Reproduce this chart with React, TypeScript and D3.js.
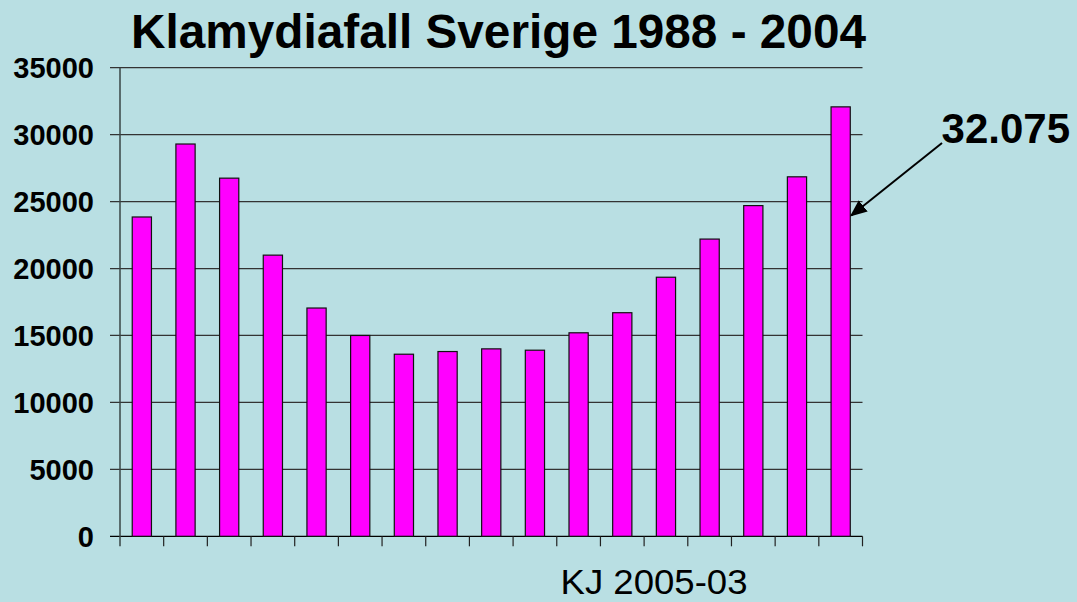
import React from "react";
import * as d3 from "d3";

const years = [
  1988, 1989, 1990, 1991, 1992, 1993, 1994, 1995, 1996, 1997, 1998, 1999,
  2000, 2001, 2002, 2003, 2004,
];
const cases = [
  23850, 29300, 26750, 21000, 17050, 15000, 13600, 13800, 14000, 13900, 15200,
  16700, 19350, 22200, 24700, 26850, 32075,
];
const yTicks = [0, 5000, 10000, 15000, 20000, 25000, 30000, 35000];
const title = "Klamydiafall Sverige 1988 - 2004";
const callout = "32.075";
const footnote = "KJ 2005-03";

export default function App() {
  const width = 1077;
  const height = 602;
  const plot = { left: 120, right: 862.5, top: 67.7, bottom: 536.3 };

  const x = d3
    .scaleBand<number>()
    .domain(years)
    .range([plot.left, plot.right])
    .padding(0);
  const y = d3.scaleLinear().domain([0, 35000]).range([plot.bottom, plot.top]);

  const barW = x.bandwidth() * 0.44;
  const font = "Arial, 'Liberation Sans', sans-serif";

  // arrow pointing at the last bar
  const last = years[years.length - 1];
  const tipX = (x(last) ?? 0) + x.bandwidth() / 2 + barW / 2 + 1;
  const tipY = y(24000) + 0.5;
  const fromX = 942;
  const fromY = 143;

  return (
    <svg
      width={width}
      height={height}
      style={{ position: "fixed", left: 0, top: 0, background: "#B9DFE3" }}
    >
      <defs>
        <marker
          id="head"
          viewBox="0 0 10 10"
          refX="9"
          refY="5"
          markerWidth="17"
          markerHeight="17"
          markerUnits="userSpaceOnUse"
          orient="auto"
        >
          <path d="M0,0.8 L10,5 L0,9.2 Z" fill="#000" />
        </marker>
      </defs>
      <rect width={width} height={height} fill="#B9DFE3" />

      {/* gridlines */}
      <g stroke="#222" strokeWidth={1.2}>
        {yTicks.map((t) => (
          <line
            key={t}
            x1={plot.left - 10}
            x2={plot.right}
            y1={y(t)}
            y2={y(t)}
            stroke={t === 0 ? "#000" : "#333"}
          />
        ))}
      </g>

      {/* y axis */}
      <line
        x1={plot.left}
        x2={plot.left}
        y1={plot.top}
        y2={plot.bottom + 10}
        stroke="#3a4646"
        strokeWidth={1.5}
      />

      {/* x ticks at category boundaries */}
      <g stroke="#222" strokeWidth={1.2}>
        {years.map((yr) => (
          <line
            key={yr}
            x1={(x(yr) ?? 0) + x.bandwidth()}
            x2={(x(yr) ?? 0) + x.bandwidth()}
            y1={plot.bottom}
            y2={plot.bottom + 10}
          />
        ))}
      </g>

      {/* bars */}
      <g>
        {years.map((yr, i) => (
          <rect
            key={yr}
            x={(x(yr) ?? 0) + (x.bandwidth() - barW) / 2}
            y={y(cases[i])}
            width={barW}
            height={plot.bottom - y(cases[i])}
            fill="#FF00FF"
            stroke="#111"
            strokeWidth={1.2}
          />
        ))}
      </g>

      {/* y labels */}
      <g fontFamily={font} fontWeight="bold" fontSize={29} fill="#000">
        {yTicks.map((t) => (
          <text key={t} x={94} y={y(t) + 10.5} textAnchor="end">
            {t}
          </text>
        ))}
      </g>

      <text
        x={498.5}
        y={47.5}
        textAnchor="middle"
        fontFamily={font}
        fontWeight="bold"
        fontSize={48}
        textLength={735}
        lengthAdjust="spacingAndGlyphs"
      >
        {title}
      </text>

      <line
        x1={fromX}
        y1={fromY}
        x2={tipX}
        y2={tipY}
        stroke="#000"
        strokeWidth={2}
        markerEnd="url(#head)"
      />
      <text
        x={1070}
        y={142.5}
        textAnchor="end"
        fontFamily={font}
        fontWeight="bold"
        fontSize={42}
      >
        {callout}
      </text>

      <text
        x={560.5}
        y={594}
        fontFamily={font}
        fontSize={35}
        textLength={187}
        lengthAdjust="spacingAndGlyphs"
      >
        {footnote}
      </text>
    </svg>
  );
}
